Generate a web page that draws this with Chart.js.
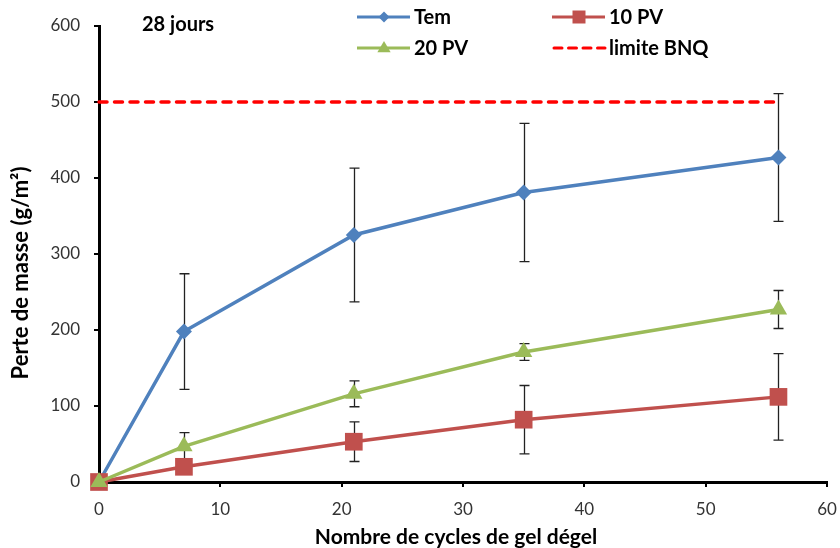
<!DOCTYPE html>
<html>
<head>
<meta charset="utf-8">
<script src="https://cdn.jsdelivr.net/npm/chart.js@4/dist/chart.umd.min.js"></script>
<style>
  html, body { margin: 0; padding: 0; background: #fff; }
  #wrap { width: 840px; height: 548px; position: relative; }
</style>
</head>
<body>
<div id="wrap"><canvas id="chart" width="840" height="548"></canvas></div>
<script>
// Freeze-thaw mass loss after 28 days of curing
const cycles = [0, 7, 21, 35, 56];

const temValues = [0, 198, 325, 381, 427];
const temErrors = [0, 76, 88, 91, 84];

const pv10Values = [0, 20, 53, 82, 112];
const pv10Errors = [0, 9, 26, 45, 57];

const pv20Values = [0, 47, 116, 171, 227];
const pv20Errors = [0, 18, 17, 11, 25];

const bnqCycles = [0, 56];
const bnqValues = [500, 500];

const xTickValues = [0, 10, 20, 30, 40, 50, 60];
const yTickValues = [0, 100, 200, 300, 400, 500, 600];

const seriesNames = ['Tem', '10 PV', '20 PV', 'limite BNQ'];
const panelLabel = '28 jours';
const xTitle = 'Nombre de cycles de gel dégel';
const yTitle = 'Perte de masse (g/m²)';

const BLUE = '#4F81BD', RED = '#C0504D', GREEN = '#9BBB59', LIMIT = '#FF0000';
const FONT = 'Lato, "Open Sans", sans-serif';

const toPoints = (xs, ys) => xs.map((x, i) => ({ x: x, y: ys[i] }));

// vertical error bars with caps, drawn under the markers
const errorBars = {
  id: 'errorBars',
  beforeDatasetsDraw(chart) {
    const { ctx, scales } = chart;
    ctx.save();
    ctx.strokeStyle = '#222';
    ctx.lineWidth = 1.3;
    chart.data.datasets.forEach(ds => {
      if (!ds.errors) return;
      ds.data.forEach((p, i) => {
        const e = ds.errors[i];
        if (!e) return;
        const px = Math.round(scales.x.getPixelForValue(p.x)) + 0.5;
        const top = scales.y.getPixelForValue(p.y + e);
        const bot = scales.y.getPixelForValue(p.y - e);
        ctx.beginPath();
        ctx.moveTo(px, top); ctx.lineTo(px, bot);
        ctx.moveTo(px - 5, top); ctx.lineTo(px + 5, top);
        ctx.moveTo(px - 5, bot); ctx.lineTo(px + 5, bot);
        ctx.stroke();
      });
    });
    ctx.restore();
  }
};

function marker(ctx, style, x, y, r, color) {
  ctx.fillStyle = color;
  ctx.beginPath();
  if (style === 'rectRot') {
    ctx.moveTo(x - r, y); ctx.lineTo(x, y - r); ctx.lineTo(x + r, y); ctx.lineTo(x, y + r);
  } else if (style === 'rect') {
    ctx.rect(x - r, y - r, 2 * r, 2 * r);
  } else if (style === 'triangle') {
    ctx.moveTo(x, y - r); ctx.lineTo(x + r * 0.95, y + r * 0.6); ctx.lineTo(x - r * 0.95, y + r * 0.6);
  }
  ctx.closePath();
  ctx.fill();
}

// legend block, panel label and axis titles
const annotations = {
  id: 'annotations',
  afterDraw(chart) {
    const ctx = chart.ctx;
    ctx.save();
    ctx.fillStyle = '#000';
    ctx.font = 'bold 20px ' + FONT;
    ctx.textAlign = 'left';
    ctx.textBaseline = 'alphabetic';
    ctx.fillText(panelLabel, 142, 30.5);

    const entries = [
      { name: seriesNames[0], color: BLUE, style: 'rectRot', r: 5.5, x: 357, y: 17 },
      { name: seriesNames[1], color: RED, style: 'rect', r: 6.5, x: 552, y: 17 },
      { name: seriesNames[2], color: GREEN, style: 'triangle', r: 7, x: 357, y: 48 },
      { name: seriesNames[3], color: LIMIT, style: 'dash', r: 0, x: 552, y: 48 }
    ];
    entries.forEach(en => {
      ctx.strokeStyle = en.color;
      ctx.lineWidth = 3;
      ctx.beginPath();
      if (en.style === 'dash') {
        ctx.setLineDash([8, 6.5]);
        ctx.lineCap = 'round';
      } else {
        ctx.setLineDash([]);
        ctx.lineCap = 'butt';
      }
      ctx.moveTo(en.x + (en.style === 'dash' ? 2 : 0), en.y);
      ctx.lineTo(en.x + 53, en.y);
      ctx.stroke();
      ctx.setLineDash([]);
      if (en.style !== 'dash') marker(ctx, en.style, en.x + 27, en.y, en.r, en.color);
      ctx.fillStyle = '#000';
      ctx.font = 'bold 20px ' + FONT;
      ctx.fillText(en.name, en.x + 57, en.y + 6.5);
    });

    ctx.font = 'bold 21px ' + FONT;
    ctx.textAlign = 'center';
    ctx.textBaseline = 'alphabetic';
    ctx.fillText(xTitle, 456, 544);

    ctx.font = 'bold 22px ' + FONT;
    ctx.translate(27.5, 273);
    ctx.rotate(-Math.PI / 2);
    ctx.fillText(yTitle, 0, 0);
    ctx.restore();
  }
};

new Chart(document.getElementById('chart'), {
  type: 'line',
  data: {
    datasets: [
      {
        label: seriesNames[0], data: toPoints(cycles, temValues), errors: temErrors,
        borderColor: BLUE, backgroundColor: BLUE, borderWidth: 3.5,
        pointStyle: 'rectRot', pointRadius: 8, pointBorderWidth: 0, order: 4
      },
      {
        label: seriesNames[1], data: toPoints(cycles, pv10Values), errors: pv10Errors,
        borderColor: RED, backgroundColor: RED, borderWidth: 3.5,
        pointStyle: 'rect', pointRadius: 12.5, pointBorderWidth: 0, order: 3
      },
      {
        label: seriesNames[2], data: toPoints(cycles, pv20Values), errors: pv20Errors,
        borderColor: GREEN, backgroundColor: GREEN, borderWidth: 3.5,
        pointStyle: 'triangle', pointRadius: 10, pointBorderWidth: 0, order: 2
      },
      {
        label: seriesNames[3], data: toPoints(bnqCycles, bnqValues),
        borderColor: LIMIT, backgroundColor: LIMIT, borderWidth: 3.5,
        borderDash: [8, 7.5], borderCapStyle: 'round',
        pointRadius: 0, order: 1
      }
    ]
  },
  options: {
    responsive: false,
    animation: false,
    clip: false,
    layout: { padding: { top: 26, right: 13, left: 0, bottom: 0 } },
    plugins: { legend: { display: false }, tooltip: { enabled: false } },
    elements: { line: { tension: 0 } },
    scales: {
      x: {
        type: 'linear', min: 0, max: 60,
        afterBuildTicks: s => { s.ticks = xTickValues.map(v => ({ value: v })); },
        afterFit: s => { s.height = 66; s.paddingLeft = 0; s.paddingRight = 0; },
        border: { color: '#000', width: 3 },
        grid: { drawOnChartArea: false, drawTicks: true, tickLength: 5, color: '#000', lineWidth: 2 },
        ticks: { color: '#333', font: { family: FONT, size: 17 }, padding: 12, maxRotation: 0 }
      },
      y: {
        type: 'linear', min: 0, max: 600,
        afterBuildTicks: s => { s.ticks = yTickValues.map(v => ({ value: v })); },
        afterFit: s => { s.width = 99; },
        border: { color: '#000', width: 3 },
        grid: { drawOnChartArea: false, drawTicks: true, tickLength: 5, color: '#000', lineWidth: 2 },
        ticks: { color: '#333', font: { family: FONT, size: 17 }, padding: 14 }
      }
    }
  },
  plugins: [errorBars, annotations]
});
</script>
</body>
</html>
